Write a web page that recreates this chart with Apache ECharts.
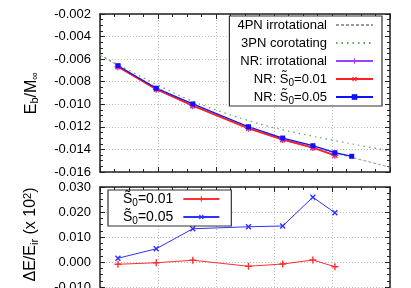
<!DOCTYPE html>
<html><head><meta charset="utf-8">
<script src="https://cdn.jsdelivr.net/npm/echarts@6/dist/echarts.min.js"></script>
<style>html,body{margin:0;padding:0;background:#fff}#c{width:411px;height:288px}</style>
</head><body><div id="c"></div>
<script>
// ---- data ----
const xPN  = [0, 0.5, 1, 1.5, 2, 2.5, 3, 3.5, 4, 4.5, 5];
const e4PN = [-0.00563, -0.00715, -0.00855, -0.00975, -0.01085, -0.01185, -0.01275, -0.01355, -0.01425, -0.01492, -0.01558];
const e3PN = [-0.00563, -0.00700, -0.00830, -0.00952, -0.01050, -0.01135, -0.01207, -0.01265, -0.01317, -0.01366, -0.01414];
const xNR     = [0.31, 0.97, 1.60, 2.56, 3.15, 3.67, 4.05, 4.34];
const eIrrot  = [-0.00667, -0.00867, -0.01012, -0.01212, -0.01313, -0.01384, -0.01451];
const eS001   = [-0.00667, -0.00867, -0.01013, -0.01213, -0.01314, -0.01385, -0.01452];
const eS005   = [-0.00658, -0.00858, -0.00997, -0.01199, -0.01299, -0.01367, -0.01429, -0.01461];
const dS001   = [-0.0009, -0.0003, 0.0007, -0.0017, -0.0008, 0.0008, -0.0019];
const dS005   = [0.0015, 0.0053, 0.0133, 0.0141, 0.0144, 0.0259, 0.0197];
const topTicks = {min: -0.016, max: -0.002, interval: 0.002};
const botTicks = {min: -0.02, max: 0.03, interval: 0.01};
const xTicks = {min: 0, max: 5, interval: 1};

const pair = (xs, ys) => ys.map((y, i) => [xs[i], y]);
const FONT = 'Liberation Sans, Arial, sans-serif';
const PLUS = 'path://M4,0H6V4H10V6H6V10H4V6H0V4H4Z';
const names = {
  pn4: '4PN irrotational', pn3: '3PN corotating', irr: 'NR: irrotational',
  s1: 'NR: S0=0.01', s5: 'NR: S0=0.05', b1: 'S0=0.01', b5: 'S0=0.05'
};
const fmtLabel = v => Math.abs(v) < 1e-9 ? '0.000' : v.toFixed(3);

function xAx(grid, pos, primary) {
  return {
    type: 'value', gridIndex: grid, position: pos, ...xTicks,
    axisLine: {show: true, onZero: false, lineStyle: {color: '#222', width: 1.5}},
    axisTick: {show: true, inside: true, length: 5, lineStyle: {color: '#222'}},
    minorTick: {show: true, splitNumber: 4, length: 3, lineStyle: {color: '#222'}},
    axisLabel: {show: false},
    splitLine: {show: primary, lineStyle: {color: '#bbb', type: [1, 2], width: 1}}
  };
}
function yAx(grid, pos, primary, t, name, nameExtra) {
  return {
    type: 'value', gridIndex: grid, position: pos, ...t,
    axisLine: {show: true, onZero: false, lineStyle: {color: '#222', width: 1.5}},
    axisTick: {show: true, inside: true, length: 5, lineStyle: {color: '#222'}},
    minorTick: {show: true, splitNumber: 4, length: 3, lineStyle: {color: '#222'}},
    axisLabel: {show: primary, formatter: fmtLabel, color: '#000', fontFamily: FONT, fontSize: 13, margin: 9},
    splitLine: {show: primary, lineStyle: {color: '#bbb', type: [1, 2], width: 1}},
    name: primary ? name : '', nameLocation: 'middle', nameGap: 60,
    nameTextStyle: Object.assign({color: '#000', fontFamily: FONT, fontSize: 16,
      rich: {
        sub: {fontSize: 11, verticalAlign: 'bottom', padding: [6, 0, 0, 0], fontFamily: FONT, color: '#000'},
        sup: {fontSize: 11, verticalAlign: 'top', padding: [0, 0, 7, 0], fontFamily: FONT, color: '#000'}
      }}, nameExtra || {})
  };
}

const chart = echarts.init(document.getElementById('c'), null, {renderer: 'canvas'});
const richLegend = {
  sub: {fontSize: 10, verticalAlign: 'bottom', padding: [5, 0, 0, 0], fontFamily: FONT, color: '#000', lineHeight: 18}
};
function legendFmt(n) {
  if (n === names.s1) return 'NR: S\u0303{sub|0}=0.01';
  if (n === names.s5) return 'NR: S\u0303{sub|0}=0.05';
  if (n === names.b1) return 'S\u0303{sub|0}=0.01';
  if (n === names.b5) return 'S\u0303{sub|0}=0.05';
  return n;
}
chart.setOption({
  animation: false,
  backgroundColor: '#fff',
  grid: [
    {left: 100, right: 21, top: 14, height: 158, outerBoundsMode: 'none', containLabel: false},
    {left: 100, right: 21, top: 187, height: 125, outerBoundsMode: 'none', containLabel: false}
  ],
  xAxis: [xAx(0, 'bottom', true), xAx(0, 'top', false), xAx(1, 'bottom', true), xAx(1, 'top', false)],
  yAxis: [
    yAx(0, 'left', true, topTicks, 'E{sub|b}/M{sub|\u221E}'),
    yAx(0, 'right', false, topTicks, ''),
    yAx(1, 'left', true, botTicks, '\u0394E/E{sub|ir} (x 10{sup|2})', {padding: [0, 0, 0, 30]}),
    yAx(1, 'right', false, botTicks, '')
  ],
  legend: [
    {
      data: [
        {name: names.pn4, itemStyle: {opacity: 0}},
        {name: names.pn3, itemStyle: {opacity: 0}},
        names.irr, names.s1, names.s5
      ],
      orient: 'vertical', align: 'right', right: 29, top: 16,
      padding: [0, 8, 0, 8], itemGap: 0, itemWidth: 37, itemHeight: 7,
      backgroundColor: '#fff', borderColor: '#333', borderWidth: 1.2, borderRadius: 0,
      formatter: legendFmt, selectedMode: false,
      textStyle: {fontFamily: FONT, fontSize: 13, color: '#000', lineHeight: 18, padding: [0, 4, 0, 0], rich: richLegend}
    },
    {
      data: [names.b1, names.b5],
      orient: 'vertical', align: 'right', left: 108, top: 190,
      padding: [0, 11, 0, 15], itemGap: 0, itemWidth: 36, itemHeight: 7,
      backgroundColor: '#fff', borderColor: '#333', borderWidth: 1.2, borderRadius: 0,
      formatter: legendFmt, selectedMode: false,
      textStyle: {fontFamily: FONT, fontSize: 14, color: '#000', lineHeight: 17.6, padding: [0, 5, 0, 0], rich: richLegend}
    }
  ],
  series: [
    {name: names.pn4, type: 'line', xAxisIndex: 0, yAxisIndex: 0, data: pair(xPN, e4PN), smooth: true,
      showSymbol: false, symbol: 'none', lineStyle: {color: '#999', width: 1, type: [3, 2]}, itemStyle: {color: '#999'}},
    {name: names.pn3, type: 'line', xAxisIndex: 0, yAxisIndex: 0, data: pair(xPN, e3PN), smooth: true,
      showSymbol: false, symbol: 'none', lineStyle: {color: '#5aaa5a', width: 1.2, type: [1.5, 4]}, itemStyle: {color: '#5aaa5a'}},
    {name: names.irr, type: 'line', xAxisIndex: 0, yAxisIndex: 0, data: pair(xNR, eIrrot),
      symbol: PLUS, symbolSize: 7, lineStyle: {color: '#9a40ff', width: 1.2}, itemStyle: {color: '#9a40ff'}},
    {name: names.s1, type: 'line', xAxisIndex: 0, yAxisIndex: 0, data: pair(xNR, eS001),
      symbol: PLUS, symbolRotate: 45, symbolSize: 7, lineStyle: {color: '#ff2020', width: 1.8}, itemStyle: {color: '#ff2020'}},
    {name: names.s5, type: 'line', xAxisIndex: 0, yAxisIndex: 0, data: pair(xNR, eS005),
      symbol: 'rect', symbolSize: 5, lineStyle: {color: '#1010ff', width: 1.3}, itemStyle: {color: '#1010ff'}},
    {name: names.b1, type: 'line', xAxisIndex: 2, yAxisIndex: 2, data: pair(xNR, dS001),
      symbol: PLUS, symbolSize: 7, lineStyle: {color: '#ff3030', width: 1}, itemStyle: {color: '#ff3030'}},
    {name: names.b5, type: 'line', xAxisIndex: 2, yAxisIndex: 2, data: pair(xNR, dS005),
      symbol: PLUS, symbolRotate: 45, symbolSize: 7, lineStyle: {color: '#3030ff', width: 1}, itemStyle: {color: '#3030ff'}}
  ]
});
</script></body></html>
